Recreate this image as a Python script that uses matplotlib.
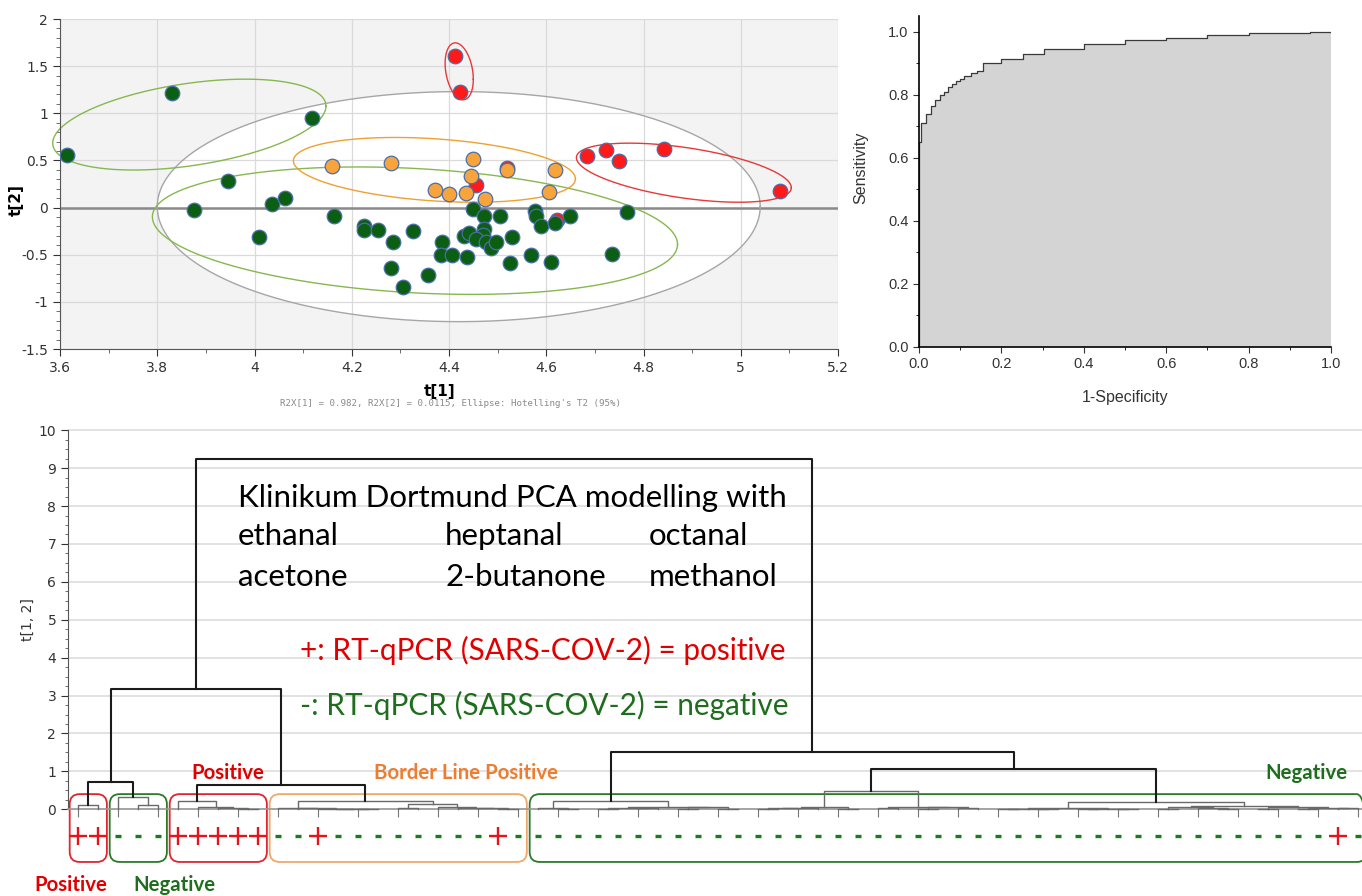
import numpy as np
import matplotlib
matplotlib.use("Agg")
import matplotlib.pyplot as plt
from matplotlib.patches import FancyBboxPatch
from matplotlib.ticker import MultipleLocator, FuncFormatter, FormatStrFormatter

# PCA score plot (t[1] vs t[2])
green_t1 = [3.614, 3.831, 4.119, 3.945, 3.876, 4.037, 4.063, 4.010, 4.164, 4.226, 4.226,
            4.255, 4.285, 4.325, 4.281, 4.306, 4.356, 4.450, 4.473, 4.504, 4.473, 4.470,
            4.430, 4.442, 4.456, 4.477, 4.487, 4.497, 4.385, 4.383, 4.407, 4.438, 4.529,
            4.526, 4.569, 4.610, 4.576, 4.579, 4.590, 4.617, 4.648, 4.766, 4.736]
green_t2 = [0.56, 1.22, 0.95, 0.28, -0.03, 0.04, 0.10, -0.31, -0.085, -0.20, -0.24,
            -0.24, -0.36, -0.25, -0.64, -0.84, -0.71, -0.01, -0.09, -0.09, -0.23, -0.29,
            -0.30, -0.27, -0.33, -0.37, -0.43, -0.36, -0.37, -0.50, -0.50, -0.52, -0.31,
            -0.59, -0.50, -0.58, -0.04, -0.085, -0.20, -0.16, -0.085, -0.05, -0.49]
orange_t1 = [4.160, 4.280, 4.450, 4.519, 4.446, 4.372, 4.399, 4.435, 4.474, 4.619, 4.606]
orange_t2 = [0.44, 0.47, 0.52, 0.40, 0.34, 0.19, 0.145, 0.155, 0.09, 0.40, 0.17]
red_t1 = [4.413, 4.423, 4.684, 4.723, 4.749, 4.843, 5.081, 4.519, 4.622, 4.456]
red_t2 = [1.61, 1.23, 0.55, 0.61, 0.49, 0.62, 0.18, 0.42, -0.13, 0.24]

# ellipses: centre, half width, half height, tilt (shear), colour
ell_cx = [4.42, 3.866, 4.33, 4.37, 4.421, 4.883]
ell_cy = [0.01, 0.88, -0.245, 0.40, 1.445, 0.37]
ell_a = [0.62, 0.281, 0.54, 0.29, 0.029, 0.221]
ell_b = [1.22, 0.44, 0.66, 0.33, 0.29, 0.27]
ell_s = [0.0, 0.70, -0.27, -0.33, -2.9, -0.72]
ell_col = ['#a6a6a6', '#86b84e', '#86b84e', '#f0a030', '#e83838', '#e83838']

# ROC curve
fpr = [0, 0, 0, 0.004, 0.016, 0.03, 0.04, 0.05, 0.06, 0.07, 0.08, 0.09, 0.10, 0.11,
       0.125, 0.14, 0.155, 0.20, 0.253, 0.303, 0.40, 0.50, 0.60, 0.70, 0.80, 0.95, 1.0]
tpr = [0, 0.59, 0.65, 0.71, 0.74, 0.765, 0.785, 0.80, 0.81, 0.825, 0.835, 0.843, 0.85,
       0.86, 0.868, 0.875, 0.90, 0.915, 0.93, 0.945, 0.96, 0.975, 0.98, 0.99, 0.995, 1.0, 1.0]

# dendrogram: (height, left, right), leaves numbered left to right
leaf_signs = "++---+++++--+--------+-" "----------------------------------------+-"
dendro_tree = (9.23,
    (3.17,
        (0.72, (0.10, 0, 1), (0.32, 2, (0.10, 3, 4))),
        (0.63,
            (0.22, 5, (0.05, 6, (0.03, 7, (0.02, 8, 9)))),
            (0.22,
                (0.04, 10, (0.03, 11, (0.02, 12, (0.015, 13, (0.01, 14, 15))))),
                (0.13, (0.04, 16, 17), (0.07, 18, (0.04, 19, (0.03, 20, (0.02, 21, 22)))))))),
    (1.50,
        (0.23,
            (0.03, 23, (0.02, 24, 25)),
            (0.07, (0.04, (0.02, 26, 27), (0.03, 28, 29)), (0.05, (0.02, 30, 31), (0.01, 32, 33)))),
        (1.05,
            (0.49,
                (0.07, (0.04, (0.03, (0.02, 34, 35), 36), 37), (0.02, 38, 39)),
                (0.07, (0.03, 40, 41), (0.05, (0.02, 42, 43), (0.03, 44, 45)))),
            (0.19,
                (0.03, (0.02, (0.01, 46, 47), (0.02, 48, 49)), (0.02, (0.01, 50, 51), (0.015, 52, 53))),
                (0.08, (0.05, (0.02, 54, 55), (0.03, 56, (0.02, 57, 58))),
                       (0.06, (0.02, 59, 60), (0.04, (0.02, 61, 62), (0.03, 63, 64))))))))

group_names = ['Positive', 'Negative', 'Positive', 'Border Line Positive', 'Negative']
group_first = [0, 2, 5, 10, 23]
group_last = [1, 4, 9, 22, 64]
group_colors = ['#e02530', '#2a7a2a', '#e02530', '#f0a868', '#2a7a2a']
label_colors = ['#e00000', '#1e6e1e', '#e00000', '#ed7d31', '#1e6e1e']

fig = plt.figure(figsize=(13.62, 8.96), dpi=100)
W, H = 1362.0, 896.0

# ---------------- score plot
ax1 = fig.add_axes([60 / W, 1 - 349 / H, 778 / W, 330 / H])
ax1.set_facecolor('#f3f3f3')
ax1.set_xlim(3.6, 5.2)
ax1.set_ylim(-1.5, 2)
ax1.set_axisbelow(True)
ax1.grid(True, color='#dadada', lw=0.9)
tt = np.linspace(0, 2 * np.pi, 400)
for i in range(len(ell_cx)):
    ex = ell_cx[i] + ell_a[i] * np.cos(tt)
    ey = ell_cy[i] + ell_b[i] * np.sin(tt) + ell_s[i] * ell_a[i] * np.cos(tt)
    if i == 0:
        ax1.fill(ex, ey, color='white', lw=0, zorder=0.3)
    ax1.plot(ex, ey, color=ell_col[i], lw=1.0, zorder=2, clip_on=False)
ax1.axhline(0, color='#8a8a8a', lw=1.8, zorder=1.5)
mk = dict(s=110, edgecolors='#4a6ea8', linewidths=0.9, zorder=3)
ax1.scatter(red_t1, red_t2, c='#ff1a1a', **mk)
ax1.scatter(orange_t1, orange_t2, c='#f7a43c', **mk)
ax1.scatter(green_t1, green_t2, c='#0b5e12', **mk)
ax1.xaxis.set_major_locator(MultipleLocator(0.2))
ax1.xaxis.set_minor_locator(MultipleLocator(0.1))
ax1.yaxis.set_major_locator(MultipleLocator(0.5))
ax1.yaxis.set_minor_locator(MultipleLocator(0.1))
fmt = FuncFormatter(lambda v, p: f'{v:g}')
ax1.xaxis.set_major_formatter(fmt)
ax1.yaxis.set_major_formatter(fmt)
for side in ['top', 'right']:
    ax1.spines[side].set_visible(False)
for side in ['left', 'bottom']:
    ax1.spines[side].set_color('#555555')
ax1.tick_params(labelsize=10, colors='#333333', length=5)
ax1.tick_params(which='minor', length=3, colors='#555555')
ax1.set_xlabel('t[1]', fontsize=11, fontweight='bold')
ax1.xaxis.set_label_coords(0.488, -0.105)
ax1.set_ylabel('t[2]', fontsize=11, fontweight='bold')
ax1.yaxis.set_label_coords(-0.046, 0.45)
fig.text(450 / W, 1 - 403 / H,
         "R2X[1] = 0.982, R2X[2] = 0.0115, Ellipse: Hotelling's T2 (95%)",
         ha='center', va='center', fontsize=6.6, family='DejaVu Sans Mono', color='#8a8a8a')

# ---------------- ROC
ax2 = fig.add_axes([919 / W, 1 - 347 / H, 412 / W, 331 / H])
ax2.set_xlim(0, 1.0)
ax2.set_ylim(0, 1.05)
ax2.fill_between(fpr, tpr, step='post', color='#d4d4d4', lw=0)
ax2.step(fpr, tpr, where='post', color='#3a3a3a', lw=0.9)
for side in ['top', 'right']:
    ax2.spines[side].set_visible(False)
for side in ['left', 'bottom']:
    ax2.spines[side].set_linewidth(1.2)
ax2.xaxis.set_major_locator(MultipleLocator(0.2))
ax2.xaxis.set_minor_locator(MultipleLocator(0.1))
ax2.yaxis.set_major_locator(MultipleLocator(0.2))
ax2.yaxis.set_minor_locator(MultipleLocator(0.1))
ax2.xaxis.set_major_formatter(FormatStrFormatter('%.1f'))
ax2.yaxis.set_major_formatter(FormatStrFormatter('%.1f'))
for lab in ax2.get_xticklabels() + ax2.get_yticklabels():
    lab.set_family('Liberation Sans')
ax2.tick_params(labelsize=10.5, colors='#333333', length=4)
ax2.tick_params(which='minor', length=2.5)
ax2.set_xlabel('1-Specificity', fontsize=11.5, family='Liberation Sans', color='#333333')
ax2.xaxis.set_label_coords(0.5, -0.13)
ax2.set_ylabel('Sensitivity', fontsize=11.5, family='Liberation Sans', color='#333333')
ax2.yaxis.set_label_coords(-0.124, 0.54)

# ---------------- dendrogram
ax3 = fig.add_axes([68 / W, 0, 1294 / W, 476 / H])
ax3.set_xlim(-0.515, 64.19)
ax3.set_ylim(-2.288, 10.27)
ax3.set_axisbelow(True)
ax3.set_yticks(range(0, 11))
ax3.set_yticks(np.arange(0, 10.01, 0.25), minor=True)
ax3.yaxis.grid(True, color='#e2e2e2', lw=1.4)
ax3.set_xticks(range(0, 65, 2))
ax3.set_xticklabels([])
ax3.tick_params(axis='x', direction='out', length=6, color='#777777')
ax3.tick_params(axis='y', labelsize=10, colors='#333333', length=5)
ax3.tick_params(axis='y', which='minor', length=2.5, color='#555555')
ax3.spines['top'].set_visible(False)
ax3.spines['right'].set_visible(False)
ax3.spines['left'].set_bounds(0, 10)
ax3.spines['left'].set_color('#555555')
ax3.spines['bottom'].set_position(('data', 0))
ax3.spines['bottom'].set_color('#9a9a9a')
ax3.spines['bottom'].set_linewidth(1.2)
ax3.set_ylabel('t[1, 2]', fontsize=10, color='#333333')
ax3.yaxis.set_label_coords(-0.0255, 0.58)


def draw_node(node):
    if isinstance(node, int):
        return float(node), 0.0
    h, left, right = node
    xl, hl = draw_node(left)
    xr, hr = draw_node(right)
    if h >= 0.6:
        col, lw = '#1b1b1b', 1.5
    else:
        col, lw = '#6a6a6a', 1.0
    ax3.plot([xl, xl, xr, xr], [hl, h, h, hr], color=col, lw=lw, zorder=3)
    return (xl + xr) / 2, h


draw_node(dendro_tree)

plus_x = [i for i, c in enumerate(leaf_signs) if c == '+']
minus_x = [i for i, c in enumerate(leaf_signs) if c == '-']
ax3.plot(plus_x, [-0.7] * len(plus_x), '+', ms=13, mew=1.7, color='#e8121b', zorder=4)
ax3.plot(minus_x, [-0.7] * len(minus_x), '_', ms=5, mew=2.4, color='#1c7a1c', zorder=4)

for i in range(len(group_names)):
    x0 = group_first[i] - 0.43
    x1 = group_last[i] + 0.43
    box = FancyBboxPatch((x0, -1.39), x1 - x0, 1.79,
                         boxstyle='round,pad=0,rounding_size=0.5',
                         mutation_aspect=20 / 37.9,
                         fc='none', ec=group_colors[i], lw=1.3, zorder=2)
    ax3.add_patch(box)

label_x = [-0.37, 4.83, 7.5, 19.4, 61.4]
label_y = [-2.0, -2.0, 0.96, 0.96, 0.96]
for i in range(len(group_names)):
    ax3.text(label_x[i], label_y[i], group_names[i], ha='center', va='center',
             fontsize=14.7, fontweight='bold', family='Lato', color=label_colors[i])

tkw = dict(family='Lato', va='baseline', ha='left', zorder=5)
ax3.text(7.99, 7.98, 'Klinikum Dortmund PCA modelling with', color='black', fontsize=22.5, **tkw)
ax3.text(7.99, 6.97, 'ethanal', color='black', fontsize=22.5, **tkw)
ax3.text(18.34, 6.97, 'heptanal', color='black', fontsize=22.5, **tkw)
ax3.text(28.5, 6.97, 'octanal', color='black', fontsize=22.5, **tkw)
ax3.text(7.99, 5.89, 'acetone', color='black', fontsize=22.5, **tkw)
ax3.text(18.34, 5.89, '2-butanone', color='black', fontsize=22.5, **tkw)
ax3.text(28.5, 5.89, 'methanol', color='black', fontsize=22.5, **tkw)
ax3.text(11.1, 3.94, '+: RT-qPCR (SARS-COV-2) = positive', color='#e00000', fontsize=21.4, **tkw)
ax3.text(11.1, 2.49, '-: RT-qPCR (SARS-COV-2) = negative', color='#1e6e1e', fontsize=21.4, **tkw)

fig.savefig('out.png', dpi=100)
